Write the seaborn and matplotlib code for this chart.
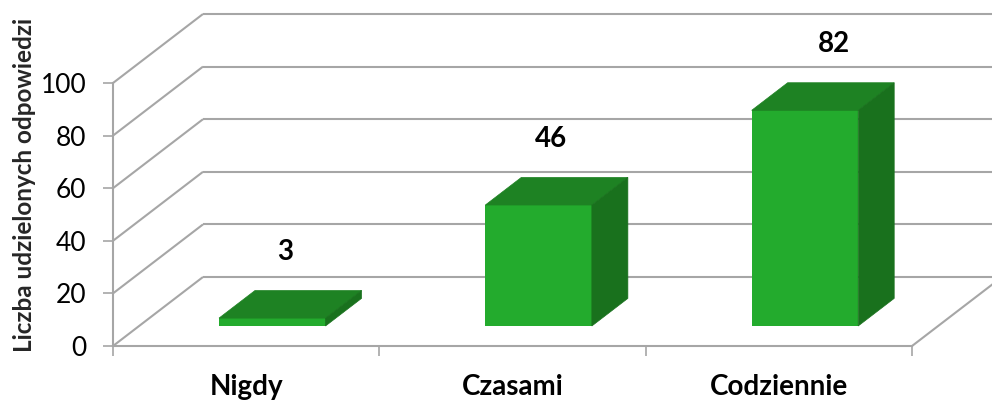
import matplotlib
matplotlib.use("Agg")
import matplotlib.pyplot as plt
from matplotlib.patches import Polygon
from matplotlib.transforms import offset_copy
import pandas as pd
import seaborn as sns

CATEGORIES = ["Nigdy", "Czasami", "Codziennie"]
VALUES = [3, 46, 82]
Y_TICKS = [0, 20, 40, 60, 80, 100]
Y_LABEL = "Liczba udzielonych odpowiedzi"

FRONT = "#23AB2D"
TOP = "#1E8223"
SIDE = "#19711D"
GRID = "#A6A6A6"

DPI = 100
FIG_W, FIG_H = 992, 403
LEFT, TOP_PX, RIGHT, BOTTOM = 113, 83, 912, 346  # front wall box in pixels
DEPTH_X, DEPTH_Y = 90, 69  # full depth of the walls in pixels
BAR_T0, BAR_T1 = 0.29, 0.69  # bar front / back as fraction of depth
LABEL_NUDGE = [-5, -6, 11]  # px, relative to top face centre
LABEL_RISE = 66  # px above front top edge


def main() -> None:
    sns.set_style("white")
    plt.rcParams["font.family"] = ["Lato", "DejaVu Sans"]

    fig = plt.figure(figsize=(FIG_W / DPI, FIG_H / DPI), dpi=DPI)
    ax = fig.add_axes([
        LEFT / FIG_W,
        (FIG_H - BOTTOM) / FIG_H,
        (RIGHT - LEFT) / FIG_W,
        (BOTTOM - TOP_PX) / FIG_H,
    ])
    ax.set_xlim(-0.5, 2.5)
    ax.set_ylim(0, 100)

    # pixel -> data unit conversion
    px_x = 3 / (RIGHT - LEFT)
    px_y = 100 / (BOTTOM - TOP_PX)
    full_dx, full_dy = DEPTH_X * px_x, DEPTH_Y * px_y

    # side wall diagonals and back wall gridlines
    for v in Y_TICKS:
        ax.plot([-0.5, -0.5 + full_dx], [v, v + full_dy], color=GRID, lw=1.5,
                clip_on=False, zorder=1, solid_capstyle="butt")
        ax.plot([-0.5 + full_dx, 3.2], [v + full_dy, v + full_dy], color=GRID,
                lw=1.5, clip_on=False, zorder=1, solid_capstyle="butt")
    # floor right edge
    ax.plot([2.5, 2.5 + full_dx], [0, full_dy], color=GRID, lw=1.5,
            clip_on=False, zorder=1)

    df = pd.DataFrame({"kategoria": CATEGORIES, "liczba": VALUES})
    sns.barplot(data=df, x="kategoria", y="liczba", color=FRONT, saturation=1,
                width=0.4, ax=ax, zorder=3, linewidth=0)

    sx, sy = BAR_T0 * DEPTH_X, BAR_T0 * DEPTH_Y
    bdx = (BAR_T1 - BAR_T0) * DEPTH_X * px_x
    bdy = (BAR_T1 - BAR_T0) * DEPTH_Y * px_y
    shifted = offset_copy(ax.transData, fig, x=sx, y=sy, units="dots")

    for i, patch in enumerate(list(ax.patches)):
        x0, w, h = patch.get_x(), patch.get_width(), patch.get_height()
        x1 = x0 + w
        patch.set_transform(shifted)
        patch.set_clip_on(False)
        top = Polygon([(x0, h), (x1, h), (x1 + bdx, h + bdy), (x0 + bdx, h + bdy)],
                      closed=True, facecolor=TOP, edgecolor=TOP, lw=0.5,
                      transform=shifted, clip_on=False, zorder=3)
        side = Polygon([(x1, 0), (x1 + bdx, bdy), (x1 + bdx, h + bdy), (x1, h)],
                       closed=True, facecolor=SIDE, edgecolor=SIDE, lw=0.5,
                       transform=shifted, clip_on=False, zorder=3)
        ax.add_patch(top)
        ax.add_patch(side)
        cx = x0 + w / 2 + bdx / 2 + LABEL_NUDGE[i] * px_x
        ax.text(cx, h + LABEL_RISE * px_y, str(VALUES[i]), transform=shifted,
                ha="center", va="center", fontsize=20, fontweight="bold",
                color="black", clip_on=False)

    # axes styling
    for name in ("top", "right"):
        ax.spines[name].set_visible(False)
    for name in ("left", "bottom"):
        ax.spines[name].set_color(GRID)
        ax.spines[name].set_linewidth(1.5)

    ax.set_yticks(Y_TICKS)
    ax.set_yticklabels([str(t) for t in Y_TICKS], fontsize=19)
    ax.tick_params(axis="y", direction="out", length=7, width=1.2, color=GRID,
                   left=True, pad=12, labelcolor="black")
    ax.set_xticks(range(len(CATEGORIES)))
    ax.set_xticklabels(CATEGORIES, fontsize=20, fontweight="bold")
    ax.set_xticks([-0.5, 0.5, 1.5, 2.5], minor=True)
    ax.tick_params(axis="x", which="major", length=0, pad=20, labelcolor="black")
    ax.tick_params(axis="x", which="minor", direction="out", length=7, width=1.2,
                   color=GRID, bottom=True)
    ax.set_xlabel("")
    ax.set_ylabel(Y_LABEL, fontsize=17.5, fontweight="bold", va="center")
    ax.yaxis.set_label_coords(-88 / (RIGHT - LEFT), (BOTTOM - 185) / (BOTTOM - TOP_PX))
    ax.grid(False)

    fig.savefig("out.png", dpi=DPI)
    plt.close(fig)


if __name__ == "__main__":
    main()
